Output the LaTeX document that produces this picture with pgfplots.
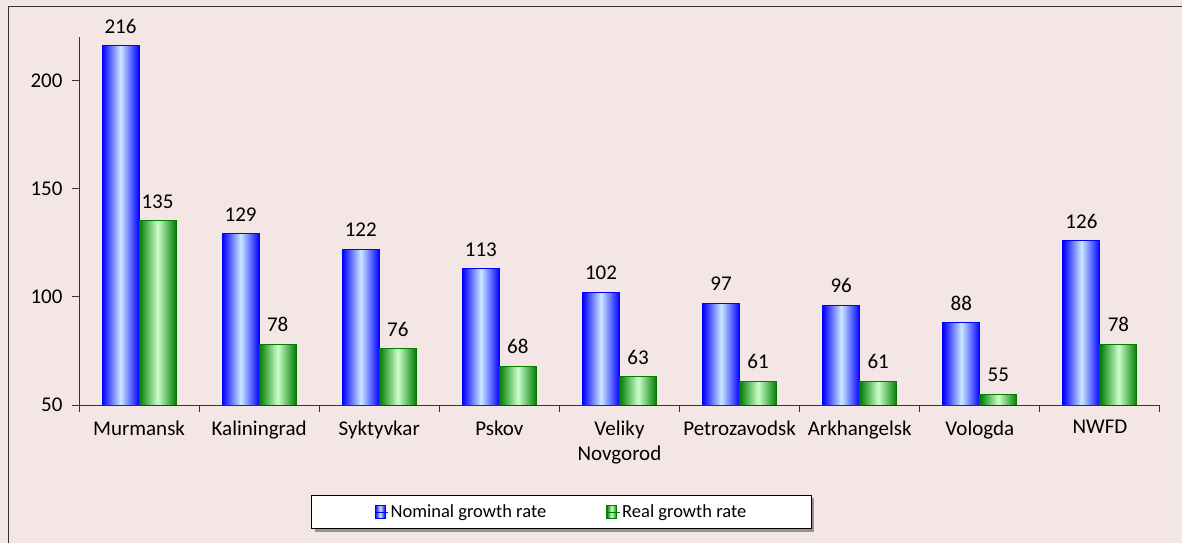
\documentclass[border=0pt]{standalone}
\usepackage{fontspec}
\setmainfont{Carlito}
\usepackage{pgfplots}
\usepackage{pgfplotstable}
\pgfplotsset{compat=1.18}
\usetikzlibrary{shadows}
\makeatletter
\tikzset{no preactions/.code={\let\tikz@preactions\pgfutil@empty}}
\makeatother
\definecolor{bg}{RGB}{245,230,230}
\definecolor{lblue}{RGB}{204,232,255}
\definecolor{dblue}{RGB}{0,0,255}
\definecolor{dgreen}{RGB}{0,125,0}
\definecolor{lgreen}{RGB}{204,255,204}
\pgfplotstableread{
x y
0 216
1 129
2 122
3 113
4 102
5 97
6 96
7 88
8 126
}\nominal
\pgfplotstableread{
x y
0 135
1 78
2 76
3 68
4 63
5 61
6 61
7 55
8 78
}\real
\pgfplotsset{
  bluebar/.style={draw=dblue, line width=1bp, left color=dblue, right color=dblue, middle color=lblue},
  greenbar/.style={draw=dgreen, line width=1bp, left color=dgreen, right color=dgreen, middle color=lgreen},
  sqlegend/.style={legend image code/.code={\draw[no preactions, ##1, line width=1bp] (0bp,-6.5bp) rectangle (10bp,6.5bp); \path[no preactions] (0bp,0bp) -- (13bp,0bp);}},
}
\begin{document}
\begin{tikzpicture}
\useasboundingbox (0bp,0bp) rectangle (1182bp,543bp);
\fill[bg] (0bp,0bp) rectangle (1182bp,543bp);
\draw[black!80, line width=1bp] (8bp,-10bp) rectangle (1200bp,536bp);
\begin{axis}[
  at={(79bp,138bp)}, anchor=south west,
  scale only axis, width=1081bp, height=368bp,
  xmin=-0.5, xmax=8.5, ymin=50, ymax=220,
  axis x line*=bottom, axis y line*=left,
  ytick={50,100,150,200},
  xtick={0,...,8},
  xticklabels={Murmansk,Kaliningrad,Syktyvkar,Pskov,{Veliky\\Novgorod},Petrozavodsk,Arkhangelsk,Vologda,NWFD},
  xticklabel style={align=center, yshift=-5bp},
  yticklabel style={xshift=-6bp},
  major x tick style={draw=none},
  minor xtick={-0.5,0.5,...,8.5},
  tick align=outside, major tick length=7bp, minor tick length=7bp,
  axis line style={black!80, line width=1bp},
  tick style={black!80, line width=1bp},
  /pgf/number format/assume math mode=true,
  ticklabel style={font=\fontsize{21bp}{25bp}\selectfont},
  ybar=0pt, bar width=37bp,
  nodes near coords,
  every node near coord/.append style={font=\fontsize{21bp}{25bp}\selectfont, yshift=8.5bp, black},
  nodes near coords style={/pgf/number format/fixed, /pgf/number format/precision=0},
  legend columns=2,
  legend style={at={(0.4463,-0.2908)}, anchor=center, draw=black, line width=1bp, fill=white,
    drop shadow={shadow xshift=3bp, shadow yshift=-3bp, fill=black!75},
    font=\fontsize{18.5bp}{22bp}\selectfont, inner xsep=63bp, inner ysep=7.5bp,
    /tikz/every even column/.append style={column sep=58bp}},
]
\pgfplotsinvokeforeach{0,...,8}{
  \addplot[bluebar, bar shift=-18.5bp, forget plot, restrict x to domain=#1:#1] table[x=x,y=y] {\nominal};
  \addplot[greenbar, bar shift=18.5bp, forget plot, restrict x to domain=#1:#1] table[x=x,y=y] {\real};
}
\addlegendimage{bluebar, sqlegend}
\addlegendentry{Nominal growth rate}
\addlegendimage{greenbar, sqlegend}
\addlegendentry{Real growth rate}
\end{axis}
\end{tikzpicture}
\end{document}
